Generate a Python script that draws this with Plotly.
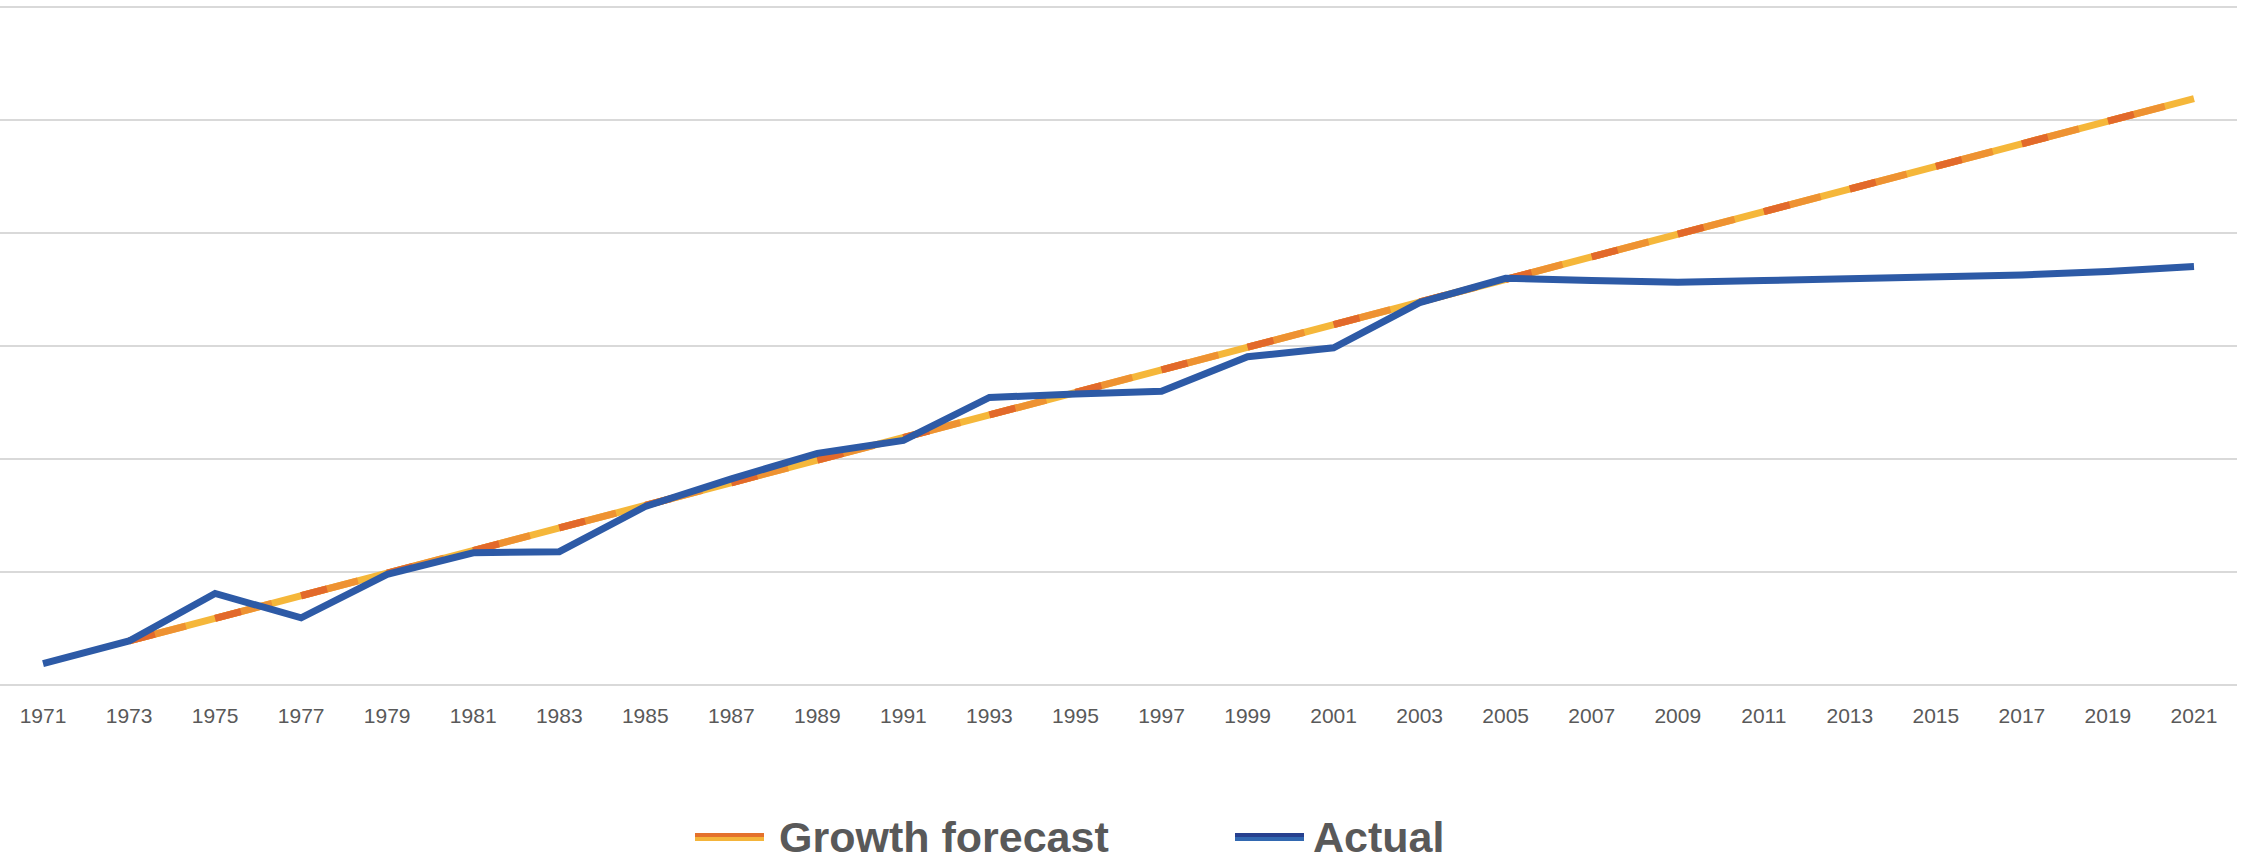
import plotly.graph_objects as go

years = [1971, 1973, 1975, 1977, 1979, 1981, 1983, 1985, 1987, 1989, 1991, 1993, 1995,
         1997, 1999, 2001, 2003, 2005, 2007, 2009, 2011, 2013, 2015, 2017, 2019, 2021]
tick_labels = [str(y) for y in years]

forecast_years = years[1:]
forecast = [7.8, 11.8, 15.8, 19.8, 23.8, 27.8, 31.8, 35.8, 39.8, 43.8, 47.8, 51.8,
            55.8, 59.8, 63.8, 67.8, 71.8, 75.8, 79.8, 83.8, 87.8, 91.8, 95.8, 99.8, 103.8]

actual = [3.8, 7.8, 16.2, 11.9, 19.6, 23.4, 23.6, 31.6, 36.5, 41.0, 43.3, 50.9, 51.5,
          52.0, 58.1, 59.7, 67.7, 72.0, 71.6, 71.3, 71.6, 71.9, 72.3, 72.6, 73.2, 74.1]

series_names = ["Growth forecast", "Actual"]

# layout geometry (pixels)
W, H = 2252, 862
ML, MR, MT, MB = 0, 15, 6, 177
PW, PH = W - ML - MR, H - MT - MB
X_RANGE = [1970.0, 2022.0]
Y_RANGE = [0, 120.2]
LEG_Y = 837


def px_x(p):
    return (p - ML) / PW


def px_y(p):
    return (H - MB - p) / PH


fig = go.Figure()
# forecast: gradient-like look built from a base and two dashed overlays
x_per_step = PW * 2 / (X_RANGE[1] - X_RANGE[0])
y_per_step = 4.0 * PH / (Y_RANGE[1] - Y_RANGE[0])
seg_len = (x_per_step ** 2 + y_per_step ** 2) ** 0.5
fig.add_trace(go.Scatter(x=forecast_years, y=forecast, mode="lines", name=series_names[0],
                         showlegend=False, hoverinfo="skip",
                         line=dict(color="#F5B73A", width=7)))
fig.add_trace(go.Scatter(x=forecast_years, y=forecast, mode="lines", name=series_names[0],
                         showlegend=False, hoverinfo="skip",
                         line=dict(color="#EE9232", width=7,
                                   dash=f"{seg_len*0.66:.2f}px,{seg_len*0.34:.2f}px")))
fig.add_trace(go.Scatter(x=forecast_years, y=forecast, mode="lines", name=series_names[0],
                         showlegend=False,
                         line=dict(color="#E2692B", width=7,
                                   dash=f"{seg_len*0.30:.2f}px,{seg_len*0.70:.2f}px")))
fig.add_trace(go.Scatter(x=years, y=actual, mode="lines", name=series_names[1],
                         showlegend=False,
                         line=dict(color="#2D5AA6", width=7)))

# custom legend (swatches + labels)
shapes = []
for x0, x1, top, bot in [(695, 764, "#E4712C", "#F4B43A"), (1235, 1304, "#27408F", "#3268B1")]:
    shapes.append(dict(type="line", xref="paper", yref="paper", x0=px_x(x0), x1=px_x(x1),
                       y0=px_y(LEG_Y - 2), y1=px_y(LEG_Y - 2), line=dict(color=top, width=4)))
    shapes.append(dict(type="line", xref="paper", yref="paper", x0=px_x(x0), x1=px_x(x1),
                       y0=px_y(LEG_Y + 2), y1=px_y(LEG_Y + 2), line=dict(color=bot, width=4)))

annotations = []
for xl, name in [(777, series_names[0]), (1311, series_names[1])]:
    annotations.append(dict(xref="paper", yref="paper", x=px_x(xl), y=px_y(LEG_Y),
                            xanchor="left", yanchor="middle", showarrow=False,
                            text=f"<b>{name}</b>",
                            font=dict(size=43, color="#595959",
                                      family="Liberation Sans, Arial, sans-serif")))

fig.update_layout(
    width=W, height=H,
    margin=dict(l=ML, r=MR, t=MT, b=MB, autoexpand=False),
    paper_bgcolor="white", plot_bgcolor="white",
    font=dict(family="Liberation Sans, Arial, sans-serif", color="#595959"),
    showlegend=False,
    shapes=shapes,
    annotations=annotations,
)
fig.update_xaxes(range=X_RANGE, tickmode="array", tickvals=years, ticktext=tick_labels,
                 tickfont=dict(size=21, color="#595959"), showgrid=False, showline=False,
                 zeroline=False, ticks="outside", ticklen=12, tickcolor="rgba(0,0,0,0)",
                 automargin=False)
fig.update_yaxes(range=Y_RANGE, tickmode="array", tickvals=[0, 20, 40, 60, 80, 100, 120],
                 showticklabels=False, showgrid=True,
                 gridcolor="#D9D9D9", gridwidth=1.5, zeroline=True, zerolinecolor="#D9D9D9",
                 zerolinewidth=1.5, showline=False, automargin=False)

fig.write_html("out.html", config={"displayModeBar": False},
               post_script="document.body.style.margin='0';document.body.style.overflow='hidden';")
